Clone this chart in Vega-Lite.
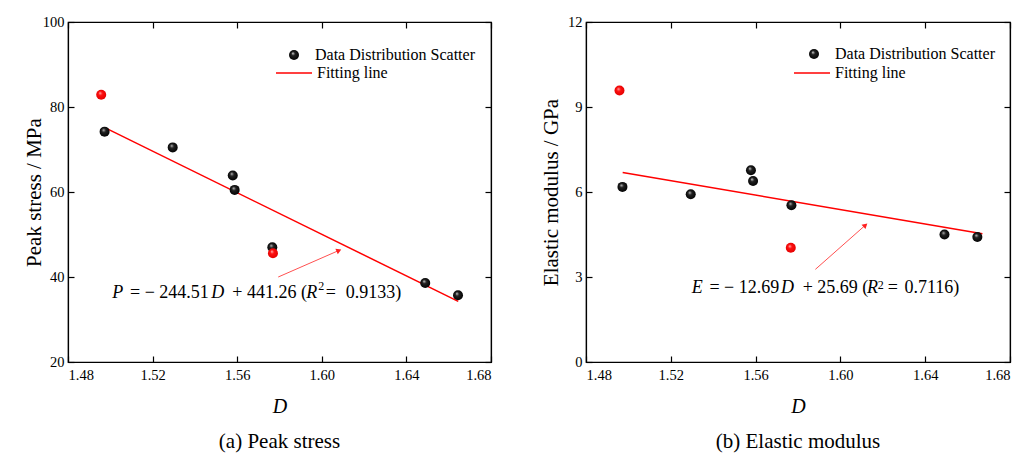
{
  "$schema": "https://vega.github.io/schema/vega-lite/v6.json",
  "background": "white",
  "padding": {"left": 22, "top": 13, "right": 5, "bottom": 0},
  "spacing": 46,
  "config": {
    "font": "Liberation Serif",
    "view": {"stroke": "black", "strokeWidth": 1.2},
    "axis": {
      "grid": false, "domainColor": "black", "domainWidth": 1.2, "tickColor": "black", "tickWidth": 1.2,
      "tickSize": -6, "labelPadding": 12, "labelColor": "black", "titleColor": "black",
      "labelFont": "Liberation Serif", "titleFont": "Liberation Serif", "labelFontSize": 14.5,
      "titleFontSize": 21, "titleFontWeight": "normal"
    },
    "axisY": {"labelPadding": 10},
    "legend": {"labelFont": "Liberation Serif", "labelFontSize": 16, "labelColor": "black", "padding": 0},
    "title": {"font": "Liberation Serif", "fontSize": 21, "fontWeight": "normal", "color": "black", "orient": "bottom", "offset": 14}
  },
  "resolve": {"scale": {"shape": "independent", "stroke": "independent"}, "legend": {"shape": "independent", "stroke": "independent"}},
  "datasets": {
    "stress": [
      {"D": 1.4957, "P": 82.9, "grp": "Outlier"},
      {"D": 1.4973, "P": 74.2, "grp": "Data Distribution Scatter"},
      {"D": 1.5295, "P": 70.5, "grp": "Data Distribution Scatter"},
      {"D": 1.5579, "P": 63.9, "grp": "Data Distribution Scatter"},
      {"D": 1.5588, "P": 60.5, "grp": "Data Distribution Scatter"},
      {"D": 1.5766, "P": 47.0, "grp": "Data Distribution Scatter"},
      {"D": 1.5769, "P": 45.6, "grp": "Outlier"},
      {"D": 1.6489, "P": 38.6, "grp": "Data Distribution Scatter"},
      {"D": 1.6644, "P": 35.7, "grp": "Data Distribution Scatter"}
    ],
    "modulus": [
      {"D": 1.4958, "E": 9.58, "grp": "Outlier"},
      {"D": 1.4972, "E": 6.18, "grp": "Data Distribution Scatter"},
      {"D": 1.5294, "E": 5.92, "grp": "Data Distribution Scatter"},
      {"D": 1.5578, "E": 6.77, "grp": "Data Distribution Scatter"},
      {"D": 1.5588, "E": 6.39, "grp": "Data Distribution Scatter"},
      {"D": 1.5769, "E": 5.53, "grp": "Data Distribution Scatter"},
      {"D": 1.5766, "E": 4.03, "grp": "Outlier"},
      {"D": 1.6491, "E": 4.5, "grp": "Data Distribution Scatter"},
      {"D": 1.6646, "E": 4.41, "grp": "Data Distribution Scatter"}
    ],
    "fitA": [
      {"D": 1.4986, "P": 74.84, "s": "Fitting line"},
      {"D": 1.6645, "P": 34.27, "s": "Fitting line"}
    ],
    "fitB": [
      {"D": 1.4973, "E": 6.69, "s": "Fitting line"},
      {"D": 1.667, "E": 4.53, "s": "Fitting line"}
    ],
    "arrowA": [{"D": 1.5794, "P": 40.0, "D2": 1.6081, "P2": 46.25}],
    "arrowB": [{"D": 1.5882, "E": 3.27, "D2": 1.6118, "E2": 4.83}],
    "eqA": [
      {"t": "P", "k": "v", "D": 1.50095, "P": 35.14},
      {"t": "= − 244.51", "k": "n", "D": 1.50931, "P": 35.14},
      {"t": "D", "k": "v", "D": 1.54775, "P": 35.14},
      {"t": "+ 441.26 (", "k": "n", "D": 1.55768, "P": 35.14},
      {"t": "R", "k": "v", "D": 1.59267, "P": 35.14},
      {"t": "2", "k": "s", "D": 1.59834, "P": 36.85},
      {"t": "=", "k": "n", "D": 1.60184, "P": 35.14},
      {"t": "0.9133)", "k": "n", "D": 1.6113, "P": 35.14}
    ],
    "eqB": [
      {"t": "E", "k": "v", "D": 1.52986, "E": 2.444},
      {"t": "= − 12.69", "k": "n", "D": 1.53821, "E": 2.444},
      {"t": "D", "k": "v", "D": 1.57198, "E": 2.444},
      {"t": "+ 25.69 (", "k": "n", "D": 1.58222, "E": 2.444},
      {"t": "R", "k": "v", "D": 1.61258, "E": 2.444},
      {"t": "2", "k": "s", "D": 1.61756, "E": 2.57},
      {"t": "=", "k": "n", "D": 1.62231, "E": 2.444},
      {"t": "0.7116)", "k": "n", "D": 1.63019, "E": 2.444}
    ]
  },
  "hconcat": [
    {
      "width": 423, "height": 340,
      "title": {"text": "(a) Peak stress"},
      "resolve": {"axis": {"x": "independent", "y": "independent"}},
      "layer": [
        {
          "data": {"name": "fitA"},
          "mark": {"type": "line", "strokeWidth": 1.5},
          "encoding": {
            "x": {"field": "D", "type": "quantitative", "scale": {"domain": [1.48, 1.68], "nice": false, "zero": false},
                  "axis": {"orient": "bottom", "values": [1.48, 1.52, 1.56, 1.6, 1.64, 1.68], "format": ".2f", "title": "D", "titleFontStyle": "italic", "titleFontSize": 20, "titlePadding": 15}},
            "y": {"field": "P", "type": "quantitative", "scale": {"domain": [20, 100], "nice": false, "zero": false},
                  "axis": {"orient": "left", "values": [20, 40, 60, 80, 100], "title": "Peak stress / MPa", "titlePadding": -2}},
            "stroke": {"field": "s", "type": "nominal", "scale": {"domain": ["Fitting line"], "range": ["#ff0000"]},
                       "legend": {"orient": "none", "legendX": 207, "legendY": 32, "title": null, "labelOffset": 4, "symbolSize": 1296, "symbolStrokeWidth": 1.5, "symbolType": "stroke"}}
          }
        },
        {
          "data": {"name": "stress"},
          "transform": [{"filter": "datum.grp == 'Data Distribution Scatter'"}],
          "mark": {"type": "point", "filled": true, "size": 100, "opacity": 1, "strokeWidth": 0,
                   "fill": {"gradient": "radial", "x1": 0.38, "y1": 0.32, "r1": 0, "x2": 0.5, "y2": 0.5, "r2": 0.55,
                            "stops": [{"offset": 0, "color": "#d0d0d0"}, {"offset": 0.35, "color": "#222222"}, {"offset": 1, "color": "#000000"}]}},
          "encoding": {
            "x": {"field": "D", "type": "quantitative", "scale": {"domain": [1.48, 1.68], "nice": false, "zero": false},
                  "axis": {"orient": "top", "values": [1.48, 1.52, 1.56, 1.6, 1.64, 1.68], "labels": false, "title": null}},
            "y": {"field": "P", "type": "quantitative", "scale": {"domain": [20, 100], "nice": false, "zero": false},
                  "axis": {"orient": "right", "values": [20, 40, 60, 80, 100], "labels": false, "title": null}},
            "shape": {"field": "grp", "type": "nominal", "scale": {"domain": ["Data Distribution Scatter"], "range": ["circle"]},
                      "legend": {"orient": "none", "legendX": 218, "legendY": 25, "title": null, "labelOffset": 13, "symbolSize": 100, "symbolFillColor": "black", "symbolStrokeWidth": 0}}
          }
        },
        {
          "data": {"name": "stress"},
          "transform": [{"filter": "datum.grp == 'Outlier'"}],
          "mark": {"type": "point", "filled": true, "size": 100, "opacity": 1, "strokeWidth": 0,
                   "fill": {"gradient": "radial", "x1": 0.38, "y1": 0.32, "r1": 0, "x2": 0.5, "y2": 0.5, "r2": 0.55,
                            "stops": [{"offset": 0, "color": "#ffc0c0"}, {"offset": 0.35, "color": "#ff1010"}, {"offset": 1, "color": "#e00000"}]}},
          "encoding": {
            "x": {"field": "D", "type": "quantitative", "scale": {"domain": [1.48, 1.68], "nice": false, "zero": false}, "axis": null},
            "y": {"field": "P", "type": "quantitative", "scale": {"domain": [20, 100], "nice": false, "zero": false}, "axis": null}
          }
        },
        {
          "data": {"name": "arrowA"},
          "mark": {"type": "rule", "color": "#ff5050", "strokeWidth": 1},
          "encoding": {
            "x": {"field": "D", "type": "quantitative", "scale": {"domain": [1.48, 1.68], "nice": false, "zero": false}, "axis": null},
            "y": {"field": "P", "type": "quantitative", "scale": {"domain": [20, 100], "nice": false, "zero": false}, "axis": null},
            "x2": {"field": "D2"},
            "y2": {"field": "P2"}
          }
        },
        {
          "data": {"name": "arrowA"},
          "mark": {"type": "point", "shape": "triangle-up", "filled": true, "color": "#ff2020", "size": 35, "angle": 66, "opacity": 1},
          "encoding": {
            "x": {"field": "D2", "type": "quantitative", "scale": {"domain": [1.48, 1.68], "nice": false, "zero": false}, "axis": null},
            "y": {"field": "P2", "type": "quantitative", "scale": {"domain": [20, 100], "nice": false, "zero": false}, "axis": null}
          }
        },
        {
          "data": {"name": "eqA"},
          "transform": [{"filter": "datum.k == 'n'"}],
          "mark": {"type": "text", "font": "Liberation Serif", "fontSize": 18, "align": "left", "baseline": "alphabetic", "color": "black"},
          "encoding": {
            "x": {"field": "D", "type": "quantitative", "scale": {"domain": [1.48, 1.68], "nice": false, "zero": false}, "axis": null},
            "y": {"field": "P", "type": "quantitative", "scale": {"domain": [20, 100], "nice": false, "zero": false}, "axis": null},
            "text": {"field": "t"}
          }
        },
        {
          "data": {"name": "eqA"},
          "transform": [{"filter": "datum.k == 'v'"}],
          "mark": {"type": "text", "font": "Liberation Serif", "fontSize": 18, "fontStyle": "italic", "align": "left", "baseline": "alphabetic", "color": "black"},
          "encoding": {
            "x": {"field": "D", "type": "quantitative", "scale": {"domain": [1.48, 1.68], "nice": false, "zero": false}, "axis": null},
            "y": {"field": "P", "type": "quantitative", "scale": {"domain": [20, 100], "nice": false, "zero": false}, "axis": null},
            "text": {"field": "t"}
          }
        },
        {
          "data": {"name": "eqA"},
          "transform": [{"filter": "datum.k == 's'"}],
          "mark": {"type": "text", "font": "Liberation Serif", "fontSize": 12, "align": "left", "baseline": "alphabetic", "color": "black"},
          "encoding": {
            "x": {"field": "D", "type": "quantitative", "scale": {"domain": [1.48, 1.68], "nice": false, "zero": false}, "axis": null},
            "y": {"field": "P", "type": "quantitative", "scale": {"domain": [20, 100], "nice": false, "zero": false}, "axis": null},
            "text": {"field": "t"}
          }
        }
      ]
    },
    {
      "width": 424, "height": 340,
      "title": {"text": "(b) Elastic modulus"},
      "resolve": {"axis": {"x": "independent", "y": "independent"}},
      "layer": [
        {
          "data": {"name": "fitB"},
          "mark": {"type": "line", "strokeWidth": 1.5},
          "encoding": {
            "x": {"field": "D", "type": "quantitative", "scale": {"domain": [1.48, 1.68], "nice": false, "zero": false},
                  "axis": {"orient": "bottom", "values": [1.48, 1.52, 1.56, 1.6, 1.64, 1.68], "format": ".2f", "title": "D", "titleFontStyle": "italic", "titleFontSize": 20, "titlePadding": 15}},
            "y": {"field": "E", "type": "quantitative", "scale": {"domain": [0, 12], "nice": false, "zero": false},
                  "axis": {"orient": "left", "values": [0, 3, 6, 9, 12], "title": "Elastic modulus / GPa", "titlePadding": 6}},
            "stroke": {"field": "s", "type": "nominal", "scale": {"domain": ["Fitting line"], "range": ["#ff0000"]},
                       "legend": {"orient": "none", "legendX": 207, "legendY": 32, "title": null, "labelOffset": 4, "symbolSize": 1296, "symbolStrokeWidth": 1.5, "symbolType": "stroke"}}
          }
        },
        {
          "data": {"name": "modulus"},
          "transform": [{"filter": "datum.grp == 'Data Distribution Scatter'"}],
          "mark": {"type": "point", "filled": true, "size": 100, "opacity": 1, "strokeWidth": 0,
                   "fill": {"gradient": "radial", "x1": 0.38, "y1": 0.32, "r1": 0, "x2": 0.5, "y2": 0.5, "r2": 0.55,
                            "stops": [{"offset": 0, "color": "#d0d0d0"}, {"offset": 0.35, "color": "#222222"}, {"offset": 1, "color": "#000000"}]}},
          "encoding": {
            "x": {"field": "D", "type": "quantitative", "scale": {"domain": [1.48, 1.68], "nice": false, "zero": false},
                  "axis": {"orient": "top", "values": [1.48, 1.52, 1.56, 1.6, 1.64, 1.68], "labels": false, "title": null}},
            "y": {"field": "E", "type": "quantitative", "scale": {"domain": [0, 12], "nice": false, "zero": false},
                  "axis": {"orient": "right", "values": [0, 3, 6, 9, 12], "labels": false, "title": null}},
            "shape": {"field": "grp", "type": "nominal", "scale": {"domain": ["Data Distribution Scatter"], "range": ["circle"]},
                      "legend": {"orient": "none", "legendX": 220, "legendY": 24, "title": null, "labelOffset": 13, "symbolSize": 100, "symbolFillColor": "black", "symbolStrokeWidth": 0}}
          }
        },
        {
          "data": {"name": "modulus"},
          "transform": [{"filter": "datum.grp == 'Outlier'"}],
          "mark": {"type": "point", "filled": true, "size": 100, "opacity": 1, "strokeWidth": 0,
                   "fill": {"gradient": "radial", "x1": 0.38, "y1": 0.32, "r1": 0, "x2": 0.5, "y2": 0.5, "r2": 0.55,
                            "stops": [{"offset": 0, "color": "#ffc0c0"}, {"offset": 0.35, "color": "#ff1010"}, {"offset": 1, "color": "#e00000"}]}},
          "encoding": {
            "x": {"field": "D", "type": "quantitative", "scale": {"domain": [1.48, 1.68], "nice": false, "zero": false}, "axis": null},
            "y": {"field": "E", "type": "quantitative", "scale": {"domain": [0, 12], "nice": false, "zero": false}, "axis": null}
          }
        },
        {
          "data": {"name": "arrowB"},
          "mark": {"type": "rule", "color": "#ff5050", "strokeWidth": 1},
          "encoding": {
            "x": {"field": "D", "type": "quantitative", "scale": {"domain": [1.48, 1.68], "nice": false, "zero": false}, "axis": null},
            "y": {"field": "E", "type": "quantitative", "scale": {"domain": [0, 12], "nice": false, "zero": false}, "axis": null},
            "x2": {"field": "D2"},
            "y2": {"field": "E2"}
          }
        },
        {
          "data": {"name": "arrowB"},
          "mark": {"type": "point", "shape": "triangle-up", "filled": true, "color": "#ff2020", "size": 35, "angle": 48, "opacity": 1},
          "encoding": {
            "x": {"field": "D2", "type": "quantitative", "scale": {"domain": [1.48, 1.68], "nice": false, "zero": false}, "axis": null},
            "y": {"field": "E2", "type": "quantitative", "scale": {"domain": [0, 12], "nice": false, "zero": false}, "axis": null}
          }
        },
        {
          "data": {"name": "eqB"},
          "transform": [{"filter": "datum.k == 'n'"}],
          "mark": {"type": "text", "font": "Liberation Serif", "fontSize": 18, "align": "left", "baseline": "alphabetic", "color": "black"},
          "encoding": {
            "x": {"field": "D", "type": "quantitative", "scale": {"domain": [1.48, 1.68], "nice": false, "zero": false}, "axis": null},
            "y": {"field": "E", "type": "quantitative", "scale": {"domain": [0, 12], "nice": false, "zero": false}, "axis": null},
            "text": {"field": "t"}
          }
        },
        {
          "data": {"name": "eqB"},
          "transform": [{"filter": "datum.k == 'v'"}],
          "mark": {"type": "text", "font": "Liberation Serif", "fontSize": 18, "fontStyle": "italic", "align": "left", "baseline": "alphabetic", "color": "black"},
          "encoding": {
            "x": {"field": "D", "type": "quantitative", "scale": {"domain": [1.48, 1.68], "nice": false, "zero": false}, "axis": null},
            "y": {"field": "E", "type": "quantitative", "scale": {"domain": [0, 12], "nice": false, "zero": false}, "axis": null},
            "text": {"field": "t"}
          }
        },
        {
          "data": {"name": "eqB"},
          "transform": [{"filter": "datum.k == 's'"}],
          "mark": {"type": "text", "font": "Liberation Serif", "fontSize": 12, "align": "left", "baseline": "alphabetic", "color": "black"},
          "encoding": {
            "x": {"field": "D", "type": "quantitative", "scale": {"domain": [1.48, 1.68], "nice": false, "zero": false}, "axis": null},
            "y": {"field": "E", "type": "quantitative", "scale": {"domain": [0, 12], "nice": false, "zero": false}, "axis": null},
            "text": {"field": "t"}
          }
        }
      ]
    }
  ]
}
